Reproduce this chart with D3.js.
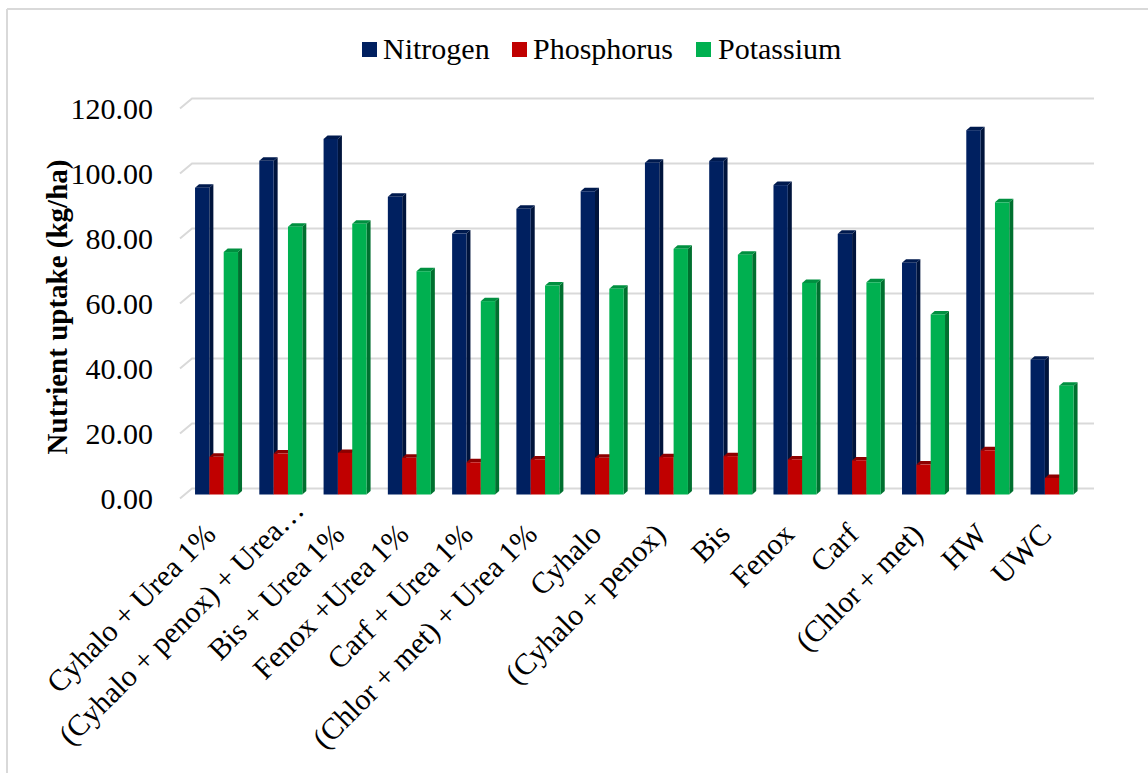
<!DOCTYPE html>
<html>
<head>
<meta charset="utf-8">
<script src="https://cdn.jsdelivr.net/npm/d3@7"></script>
<style>
  html, body { margin: 0; padding: 0; background: #fff; }
  svg { display: block; }
  svg text { font-family: "Liberation Serif", "Times New Roman", serif; }
</style>
</head>
<body>
<svg id="chart" width="1148" height="773"></svg>
<script>
const categories = ["Cyhalo + Urea 1%", "(Cyhalo + penox) + Urea\u2026", "Bis + Urea 1%", "Fenox +Urea 1%", "Carf + Urea 1%", "(Chlor + met) + Urea 1%", "Cyhalo", "(Cyhalo + penox)", "Bis", "Fenox", "Carf", "(Chlor + met)", "HW", "UWC"];
const seriesNames = ["Nitrogen", "Phosphorus", "Potassium"];
const nitrogen   = [94.4, 102.7, 109.4, 91.6, 80.3, 87.9, 93.3, 102.1, 102.6, 95.2, 80.2, 71.3, 112.1, 41.5];
const phosphorus = [11.6, 12.6, 12.8, 11.3, 9.9, 10.8, 11.3, 11.5, 11.8, 10.8, 10.5, 9.2, 13.6, 5.1];
const potassium  = [74.6, 82.4, 83.3, 68.7, 59.5, 64.3, 63.3, 75.6, 73.8, 65.1, 65.3, 55.4, 89.9, 33.5];
const yTicks = [0, 20, 40, 60, 80, 100, 120];
const yTitle = "Nutrient uptake (kg/ha)";

const seriesValues = [nitrogen, phosphorus, potassium];
const colors = {
  Nitrogen:   { front: "#002060", side: "#00143c", top: "#001a4e" },
  Phosphorus: { front: "#c00000", side: "#7a0000", top: "#8e0000" },
  Potassium:  { front: "#00b050", side: "#00702f", top: "#009040" }
};
const FONT = "'Liberation Serif', 'Times New Roman', serif";

const svg = d3.select("#chart");

// border (top and left)
svg.append("line").attr("x1", 7).attr("y1", 9).attr("x2", 1148).attr("y2", 9)
  .attr("stroke", "#d9d9d9").attr("stroke-width", 2);
svg.append("line").attr("x1", 7).attr("y1", 9).attr("x2", 7).attr("y2", 773)
  .attr("stroke", "#d9d9d9").attr("stroke-width", 2);

const y = d3.scaleLinear().domain([0, 120]).range([494.5, 104.5]);
const x0 = d3.scaleBand().domain(categories).range([184.4, 1084.2]);
const groupW = 43;
const x1 = d3.scaleBand().domain(seriesNames)
  .range([(x0.bandwidth() - groupW) / 2, (x0.bandwidth() + groupW) / 2]);

// gridlines (back wall with floor diagonal)
const depthDx = 12, depthDy = -10;
const grid = svg.append("g");
yTicks.forEach(t => {
  const yb = y(t) - 6;
  grid.append("path")
    .attr("d", `M${180},${yb - depthDy}L${180 + depthDx},${yb}L1094,${yb}`)
    .attr("fill", "none").attr("stroke", "#d9d9d9").attr("stroke-width", 2);
});

// y tick labels
svg.append("g").selectAll("text").data(yTicks).join("text")
  .attr("x", 153).attr("y", d => y(d) + 14.5)
  .attr("text-anchor", "end")
  .attr("font-family", FONT)
  .attr("font-size", 30).attr("fill", "#000")
  .text(d => d3.format(".2f")(d));

// y title
svg.append("text")
  .attr("transform", `translate(67,307) rotate(-90)`)
  .attr("text-anchor", "middle")
  .attr("font-family", FONT)
  .attr("font-size", 29).attr("font-weight", "bold").attr("fill", "#000")
  .text(yTitle);

// bars (3D-like)
const bw = x1.bandwidth();
const sdx = 4, sdy = -3.5;
const bars = svg.append("g");
categories.forEach((c, i) => {
  seriesNames.forEach((s, j) => {
    const v = seriesValues[j][i];
    const xl = x0(c) + x1(s);
    const xr = xl + bw;
    const yt = y(v), yb = y(0);
    const col = colors[s];
    bars.append("path")
      .attr("d", `M${xr},${yt}L${xr + sdx},${yt + sdy}L${xr + sdx},${yb + sdy}L${xr},${yb}Z`)
      .attr("fill", col.side);
    bars.append("path")
      .attr("d", `M${xl},${yt}L${xl + sdx},${yt + sdy}L${xr + sdx},${yt + sdy}L${xr},${yt}Z`)
      .attr("fill", col.top);
    bars.append("rect")
      .attr("x", xl).attr("y", yt).attr("width", bw).attr("height", yb - yt)
      .attr("fill", col.front);
  });
});

// x labels (rotated -45, end-anchored under each group; truncated labels sit further along)
svg.append("g").selectAll("text").data(categories).join("text")
  .attr("transform", d => {
    const shift = d.endsWith("\u2026") ? 24 : 0;
    return `translate(${x0(d) + x0.bandwidth() / 2 + 1 + shift},${536 - shift}) rotate(-45)`;
  })
  .attr("text-anchor", "end")
  .attr("font-family", FONT)
  .attr("font-size", 30).attr("fill", "#000")
  .text(d => d);

// legend
const legendPos = [{ sx: 362, tx: 383 }, { sx: 512, tx: 533 }, { sx: 696, tx: 718 }];
const legend = svg.append("g");
seriesNames.forEach((s, j) => {
  legend.append("rect").attr("x", legendPos[j].sx).attr("y", 42).attr("width", 15).attr("height", 15)
    .attr("fill", colors[s].front);
  legend.append("text").attr("x", legendPos[j].tx).attr("y", 59)
    .attr("font-family", FONT)
    .attr("font-size", 30).attr("fill", "#000").text(s);
});
</script>
</body>
</html>
